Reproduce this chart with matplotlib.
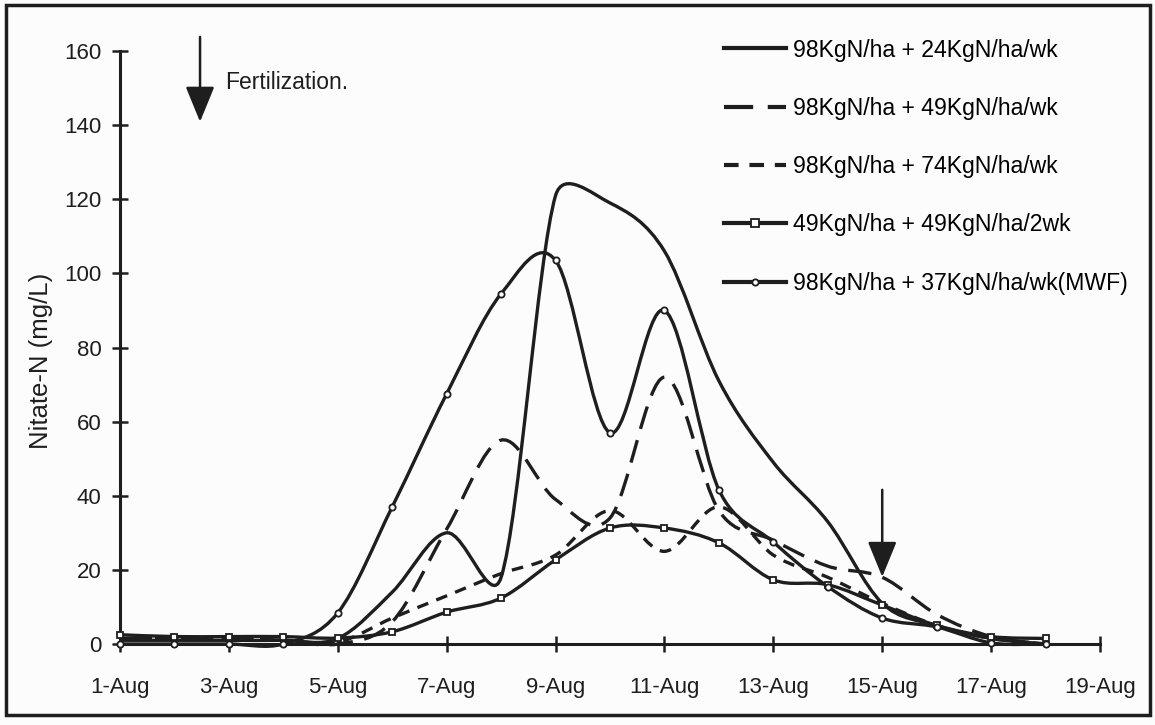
import matplotlib
matplotlib.use("Agg")
import matplotlib.pyplot as plt
import numpy as np
from matplotlib.lines import Line2D
from matplotlib.patches import PathPatch, Rectangle
from matplotlib.path import Path

plt.rcParams["font.family"] = ["Liberation Sans", "DejaVu Sans"]

days = list(range(1, 19))
n24 = [1, 1, 1, 1, 1.5, 14, 30, 18, 121, 119, 106, 71, 49, 33, 11, 5, 1.5, 0]
n49 = [1.5, 1.5, 1.5, 1, 0, 6, 31, 55, 39, 34, 72, 36, 28, 21, 18, 8, 2, 0]
n74 = [1.5, 1.5, 1.5, 1, 0.5, 7, 13, 19, 24, 36, 25, 37, 24, 18, 11, 5, 1.5, 0]
n49x2 = [2.5, 2, 2, 2, 1.6, 3.3, 8.6, 12.4, 22.7, 31.3, 31.3, 27.3, 17.3, 16, 10.5, 5, 2, 1.5]
mwf = [0, 0, 0, 0, 8.4, 37, 67.5, 94.5, 103.5, 57, 90, 41.6, 27.5, 15.5, 7, 4.6, 0.3, 0]

labels = ["98KgN/ha + 24KgN/ha/wk", "98KgN/ha + 49KgN/ha/wk", "98KgN/ha + 74KgN/ha/wk",
          "49KgN/ha + 49KgN/ha/2wk", "98KgN/ha + 37KgN/ha/wk(MWF)"]
xticks = [1, 3, 5, 7, 9, 11, 13, 15, 17, 19]
xticklabels = [f"{d}-Aug" for d in xticks]

INK = "#1e1e1e"
long_dash = (0, (7, 3.5))
short_dash = (0, (3.5, 2.6))


def smooth_path(ax, x, y):
    # excel-like smoothed line: bezier per segment, handles clamped to half
    # the segment length (worked out in screen space)
    pts = ax.transData.transform(np.column_stack([x, y]))
    n = len(pts)
    verts = [pts[0]]
    for i in range(n - 1):
        p0 = pts[max(i - 1, 0)]
        p1 = pts[i]
        p2 = pts[i + 1]
        p3 = pts[min(i + 2, n - 1)]
        half = np.hypot(*(p2 - p1)) / 2
        v1 = (p2 - p0) / 6
        v2 = (p3 - p1) / 6
        for v in (v1, v2):
            ln = np.hypot(*v)
            if ln > half:
                v *= half / ln
        verts += [p1 + v1, p2 - v2, p2]
    verts = ax.transData.inverted().transform(np.array(verts))
    codes = [Path.MOVETO] + [Path.CURVE4] * (3 * (n - 1))
    return Path(verts, codes)


fig = plt.figure(figsize=(11.55, 7.25), dpi=100, facecolor="#fcfcfc")
ax = fig.add_axes([120 / 1155, 81 / 725, 980 / 1155, 593 / 725])
ax.set_facecolor("none")
ax.set_xlim(1, 19)
ax.set_ylim(0, 160)

series = [
    (n24, "-", None),
    (n49, long_dash, None),
    (n74, short_dash, None),
    (n49x2, "-", "s"),
    (mwf, "-", "o"),
]
handles = []
for (vals, ls, mk), lab in zip(series, labels):
    patch = PathPatch(smooth_path(ax, days, vals), fill=False, edgecolor=INK,
                      linewidth=2.4, linestyle=ls, clip_on=False, zorder=3)
    ax.add_patch(patch)
    if mk:
        ax.plot(days, vals, ls="none", marker=mk, ms=5 if mk == "s" else 4.5,
                mfc="white", mec=INK, mew=1.3, clip_on=False, zorder=4)
    handles.append(Line2D([], [], color=INK, lw=3, linestyle=ls, marker=mk,
                          ms=6 if mk == "s" else 4.5, mfc="white", mec=INK, mew=1.3,
                          label=lab))

ax.set_xticks(xticks)
ax.set_xticklabels(xticklabels)
ax.set_yticks(range(0, 161, 20))
for s in ["top", "right"]:
    ax.spines[s].set_visible(False)
for s in ["left", "bottom"]:
    ax.spines[s].set_linewidth(2.2)
    ax.spines[s].set_color(INK)
ax.tick_params(axis="y", direction="inout", length=11, width=1.8, pad=8, labelsize=16, colors=INK)
ax.tick_params(axis="x", direction="inout", length=12, width=1.8, pad=18, labelsize=16, colors=INK)

ax.text(-0.081, 0.477, "Nitate-N (mg/L)", rotation=90, ha="center", va="center",
        transform=ax.transAxes, fontsize=18.5, color=INK)

ax.legend(handles=handles, loc="upper left", bbox_to_anchor=(712 / 1155, 1 - 27 / 725),
          bbox_transform=fig.transFigure, frameon=False, fontsize=16.6,
          handlelength=2.7, handletextpad=0.3, labelspacing=1.53, borderpad=0)

arrow = dict(arrowstyle="-|>,head_length=1.1,head_width=0.45", color=INK, lw=1.8,
             mutation_scale=20, shrinkA=0, shrinkB=0)
ax.annotate("", xy=(2.47, 140.9), xytext=(2.47, 163.8), arrowprops=arrow, annotation_clip=False)
ax.text(2.93, 151.6, "Fertilization.", fontsize=16.5, va="center", ha="left", color=INK)
ax.annotate("", xy=(15, 18.1), xytext=(15, 41.6), arrowprops=arrow, annotation_clip=False)

fig.patches.append(Rectangle((6 / 1155, 10 / 725), 1144 / 1155, 710 / 725, fill=False,
                             edgecolor=INK, linewidth=2.5, transform=fig.transFigure))

fig.savefig("out.png", dpi=100, facecolor=fig.get_facecolor())
